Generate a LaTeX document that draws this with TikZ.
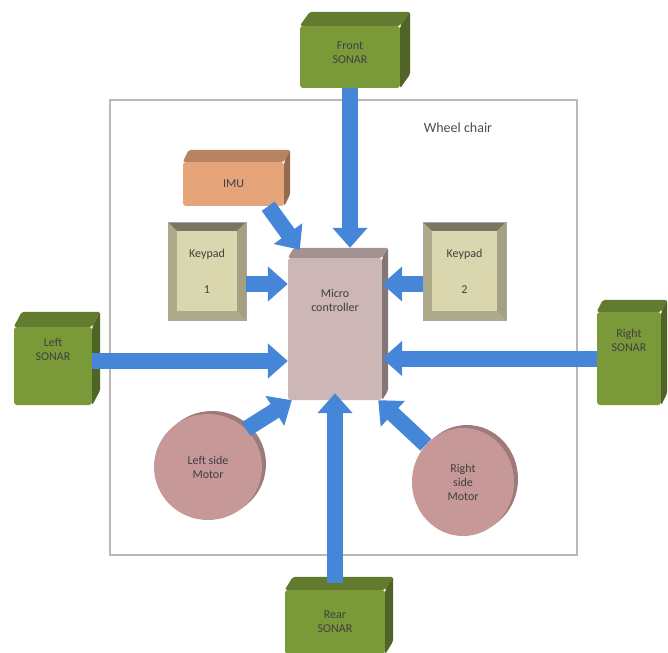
\documentclass[tikz,border=0pt]{standalone}
\usepackage{fontspec}
\setmainfont{Carlito}
\usetikzlibrary{arrows.meta,positioning,shapes.geometric,shadows}
\definecolor{sonargreen}{HTML}{7A9A3A}
\definecolor{imuorange}{HTML}{E6A47A}
\definecolor{keybeige}{HTML}{DAD6AE}
\definecolor{microrose}{HTML}{CDB6B6}
\definecolor{motorrose}{HTML}{C69898}
\definecolor{linkblue}{HTML}{4686D8}
\newcommand\boxfont{\fontsize{12}{14}\selectfont}
\tikzset{
  frontface/.style={fill=#1, rounded corners=3pt, inner sep=0pt, align=center,
    font=\boxfont, text=black!75},
  keypad/.style={frontface=keybeige!80!black, draw=gray!70, rounded corners=0pt,
    path picture={
      \fill[keybeige!55!black] (path picture bounding box.north west) -- (path picture bounding box.north east)
        -- ++(-9,9) -- ([shift={(9,9)}]path picture bounding box.north west) -- cycle;
      \fill[keybeige!75!black] (path picture bounding box.north east) -- (path picture bounding box.south east)
        -- ++(-9,-9) -- ([shift={(-9,9)}]path picture bounding box.north east) -- cycle;
      \fill[keybeige] ([shift={(9,9)}]path picture bounding box.north west)
        rectangle ([shift={(-9,-9)}]path picture bounding box.south east);
    }},
  motor/.style={ellipse, fill=motorrose, inner sep=0pt, align=center, font=\boxfont,
    text=black!75, general shadow={fill=motorrose!80!black, shadow xshift=4pt, shadow yshift=3pt}},
  link/.style={draw=linkblue, line width=16pt, -{Triangle[width=34pt,length=20pt]}}
}
\newcommand\cubefaces[4]{%
  \fill[#4!80!black, rounded corners=2pt] (#1.north west) -- ++(#2,-#3)
    -- ([shift={(#2,-#3)}]#1.north east) -- (#1.north east) -- cycle;
  \fill[#4!65!black, rounded corners=2pt] (#1.north east) -- ++(#2,-#3)
    -- ([shift={(#2,-#3)}]#1.south east) -- (#1.south east) -- cycle;
}

\begin{document}
\begin{tikzpicture}[x=1pt,y=-1pt]
\useasboundingbox[fill=white] (0,0) rectangle (668,652);
\draw[gray!55, line width=1.2pt] (110,100) rectangle (577,555);
\node[font=\fontsize{14}{16}\selectfont, text=black!70] (chairlabel) at (458,128) {Wheel chair};

\node[frontface=sonargreen, minimum width=100pt, minimum height=62pt,
  label={[align=center, font=\boxfont, text=black!75, yshift=4pt]center:Front\\SONAR}] (front) at (350,57) {};
\cubefaces{front}{10}{14}{sonargreen}
\node[frontface=imuorange, minimum width=101pt, minimum height=44pt] (imu) at (233.5,184) {IMU};
\cubefaces{imu}{6}{12}{imuorange}
\node[frontface=microrose, minimum width=94pt, minimum height=142pt,
  label={[align=center, font=\boxfont, text=black!75, yshift=29pt]center:Micro\\controller}] (micro) at (335,329) {};
\cubefaces{micro}{6}{10}{microrose}
\coordinate (microtop) at ([yshift=10pt]micro.north);

\node[keypad, minimum width=78pt, minimum height=98pt] (kp1) at (207,271) {Keypad\\[22pt]1};
\node[keypad, minimum width=83pt, minimum height=98pt] (kp2) at (464.5,271) {Keypad\\[22pt]2};

\node[frontface=sonargreen, minimum width=78pt, minimum height=78pt,
  label={[align=center, font=\boxfont, text=black!75, yshift=17pt]center:Left\\SONAR}] (left) at (53,366) {};
\cubefaces{left}{8}{15}{sonargreen}
\node[frontface=sonargreen, minimum width=64pt, minimum height=93pt,
  label={[align=center, font=\boxfont, text=black!75, yshift=18pt]center:Right\\SONAR}] (right) at (629,358.5) {};
\cubefaces{right}{6}{12}{sonargreen}
\node[frontface=sonargreen, minimum width=100pt, minimum height=64pt] (rear) at (335,622) {Rear\\SONAR};
\cubefaces{rear}{8}{13}{sonargreen}

\node[motor, minimum width=108pt, minimum height=106pt] (lmotor) at (208,467) {Left side\\Motor};
\node[motor, minimum width=102pt, minimum height=108pt] (rmotor) at (463,482) {Right\\side\\Motor};

\draw[link] (front.south) -- (front.south |- microtop);
\draw[link] ([xshift=-16pt]imu.south east) -- ([shift={(12,-8)}]micro.north west);
\draw[link] ([yshift=-13pt]kp1.east) -- ([yshift=-13pt]kp1.east -| micro.west);
\draw[link] ([yshift=-13pt]kp2.west) -- ([yshift=-13pt]kp2.west -| micro.east);
\draw[link] ([yshift=5pt]left.east) -- ([yshift=5pt]left.east -| micro.west);
\draw[link] (right.west) -- (right.west -| micro.east);
\draw[link] (lmotor.45) -- ([xshift=4pt]micro.south west);
\draw[link] (rmotor.135) -- ([xshift=-4pt]micro.south east);
\draw[link] ([yshift=7pt]rear.north) -- ([yshift=7pt]rear.north |- micro.south);
\end{tikzpicture}
\end{document}
